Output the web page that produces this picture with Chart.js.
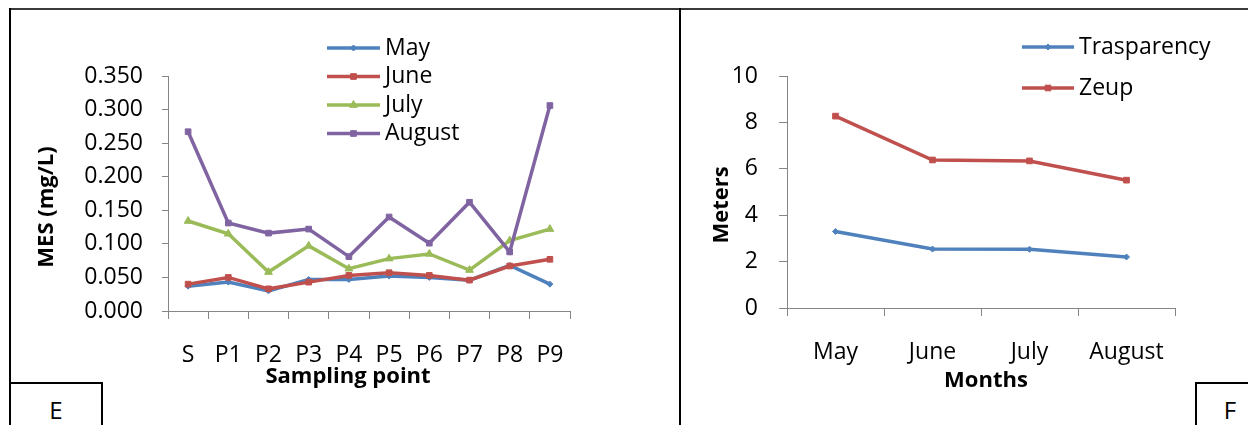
<!DOCTYPE html>
<html>
<head>
<meta charset="utf-8">
<title>MES and water transparency</title>
<script src="https://cdn.jsdelivr.net/npm/chart.js@4/dist/chart.umd.min.js"></script>
<style>
  html, body { margin: 0; padding: 0; background: #fff; }
  #wrap { position: relative; width: 1248px; height: 425px; overflow: hidden; font-family: "Open Sans", sans-serif; }
  canvas { position: absolute; top: 0; }
  #mesChart { left: 0; }
  #depthChart { left: 680px; }
  .rule { position: absolute; background: #000; }
  .tag { position: absolute; border: 2px solid #000; background: #fff; box-sizing: border-box;
         font-size: 24px; line-height: 30px; padding-top: 11px; text-align: center; color: #000; }
</style>
</head>
<body>
<div id="wrap">
  <canvas id="mesChart" width="680" height="425"></canvas>
  <canvas id="depthChart" width="568" height="425"></canvas>
  <div class="rule" style="left:9px;top:8px;width:1239px;height:2px;background:#3a3a3a"></div>
  <div class="rule" style="left:9px;top:8px;width:2px;height:417px"></div>
  <div class="rule" style="left:679px;top:8px;width:2px;height:417px"></div>
  <div class="tag" style="left:9px;top:382px;width:94px;height:60px">E</div>
  <div class="tag" style="left:1195px;top:382px;width:70px;height:60px">F</div>
</div>
<script>
// ---- Panel E: suspended matter (MES) per sampling point ----
const samplingPoints = ['S', 'P1', 'P2', 'P3', 'P4', 'P5', 'P6', 'P7', 'P8', 'P9'];
const mesMay    = [0.037, 0.043, 0.030, 0.047, 0.047, 0.052, 0.050, 0.046, 0.068, 0.040];
const mesJune   = [0.040, 0.050, 0.033, 0.043, 0.053, 0.057, 0.053, 0.046, 0.067, 0.077];
const mesJuly   = [0.134, 0.115, 0.058, 0.097, 0.063, 0.078, 0.085, 0.061, 0.105, 0.122];
const mesAugust = [0.267, 0.131, 0.116, 0.122, 0.081, 0.140, 0.101, 0.162, 0.088, 0.306];
const mesTicks  = [0, 0.05, 0.10, 0.15, 0.20, 0.25, 0.30, 0.35];

// ---- Panel F: transparency and euphotic depth per month ----
const months       = ['May', 'June', 'July', 'August'];
const transparency = [3.30, 2.54, 2.53, 2.20];
const zeup         = [8.27, 6.38, 6.34, 5.51];
const meterTicks   = [0, 2, 4, 6, 8, 10];

const BLUE = '#4F81BD', RED = '#C0504D', GREEN = '#9BBB59', PURPLE = '#8064A2';
const AXIS = '#868686';
const FONT = '"Open Sans", sans-serif';

Chart.defaults.font.family = FONT;
Chart.defaults.font.size = 23;
Chart.defaults.color = '#000';

function series(label, data, color, style, radius, order) {
  return {
    label, data, order,
    borderColor: color, backgroundColor: color,
    borderWidth: 3.5, tension: 0,
    pointStyle: style, pointRadius: radius, pointBorderWidth: 1,
    pointBackgroundColor: color, pointBorderColor: color
  };
}

// legend drawn as a column of line samples beside the plot
const sideLegend = {
  id: 'sideLegend',
  afterDraw(chart, args, o) {
    const ctx = chart.ctx;
    chart.data.datasets.forEach((ds, i) => {
      const y = o.y0 + i * o.step;
      ctx.save();
      ctx.strokeStyle = ds.borderColor;
      ctx.lineWidth = ds.borderWidth;
      ctx.beginPath();
      ctx.moveTo(o.x0, y);
      ctx.lineTo(o.x1, y);
      ctx.stroke();
      ctx.fillStyle = ds.backgroundColor;
      ctx.lineWidth = 1;
      Chart.helpers.drawPoint(ctx, { pointStyle: ds.pointStyle, radius: ds.pointRadius, borderWidth: 1 }, (o.x0 + o.x1) / 2, y);
      ctx.fillStyle = '#000';
      ctx.font = o.size + 'px ' + FONT;
      ctx.textAlign = 'left';
      ctx.textBaseline = 'middle';
      ctx.fillText(ds.label, o.x1 + 5, y);
      ctx.restore();
    });
  }
};

// bold axis titles at fixed spots
const axisTitles = {
  id: 'axisTitles',
  afterDraw(chart, args, o) {
    const ctx = chart.ctx;
    ctx.save();
    ctx.fillStyle = '#000';
    ctx.font = 'bold ' + o.size + 'px ' + FONT;
    ctx.textAlign = 'center';
    ctx.textBaseline = 'middle';
    ctx.fillText(o.x.text, o.x.cx, o.x.cy);
    ctx.translate(o.y.cx, o.y.cy);
    ctx.rotate(-Math.PI / 2);
    ctx.fillText(o.y.text, 0, 0);
    ctx.restore();
  }
};

function axes(yTicks, fmt, yWidth, yTickLen, yPad, xTickLen, xPad) {
  return {
    x: {
      type: 'category', offset: true,
      grid: { offset: true, drawOnChartArea: false, drawTicks: true, tickLength: xTickLen, color: AXIS, lineWidth: 1 },
      border: { display: true, color: AXIS, width: 1 },
      ticks: { autoSkip: false, maxRotation: 0, padding: xPad },
      afterFit(s) { s.height = 60; }
    },
    y: {
      min: yTicks[0], max: yTicks[yTicks.length - 1],
      grid: { drawOnChartArea: false, drawTicks: true, tickLength: yTickLen, color: AXIS, lineWidth: 1 },
      border: { display: true, color: AXIS, width: 1 },
      ticks: { padding: yPad, callback: v => fmt(v) },
      afterBuildTicks(s) { s.ticks = yTicks.map(v => ({ value: v })); },
      afterFit(s) { s.width = yWidth; }
    }
  };
}

new Chart(document.getElementById('mesChart'), {
  type: 'line',
  data: {
    labels: samplingPoints,
    datasets: [
      series('May', mesMay, BLUE, 'rectRot', 3, 4),
      series('June', mesJune, RED, 'rect', 4, 3),
      series('July', mesJuly, GREEN, 'triangle', 4.5, 2),
      series('August', mesAugust, PURPLE, 'rect', 4, 1)
    ]
  },
  options: {
    responsive: false, animation: false, devicePixelRatio: 1,
    layout: { padding: { left: 0, right: 110, top: 76, bottom: 54 } },
    scales: axes(mesTicks, v => v.toFixed(3), 168, 6, 19, 8, 23),
    plugins: {
      legend: { display: false }, tooltip: { enabled: false },
      sideLegend: { x0: 327, x1: 380, y0: 48, step: 28.5, size: 23 },
      axisTitles: { size: 22,
        x: { text: 'Sampling point', cx: 348, cy: 377 },
        y: { text: 'MES (mg/L)', cx: 47, cy: 207 } }
    }
  },
  plugins: [sideLegend, axisTitles]
});

new Chart(document.getElementById('depthChart'), {
  type: 'line',
  data: {
    labels: months,
    datasets: [
      series('Trasparency', transparency, BLUE, 'rectRot', 3, 2),
      series('Zeup', zeup, RED, 'rect', 4, 1)
    ]
  },
  options: {
    responsive: false, animation: false, devicePixelRatio: 1,
    layout: { padding: { left: 0, right: 73, top: 76, bottom: 57 } },
    scales: axes(meterTicks, v => String(v), 107, 8, 21, 8, 23),
    plugins: {
      legend: { display: false }, tooltip: { enabled: false },
      sideLegend: { x0: 342, x1: 394, y0: 47, step: 41, size: 23 },
      axisTitles: { size: 22,
        x: { text: 'Months', cx: 306, cy: 381 },
        y: { text: 'Meters', cx: 42, cy: 205 } }
    }
  },
  plugins: [sideLegend, axisTitles]
});
</script>
</body>
</html>
